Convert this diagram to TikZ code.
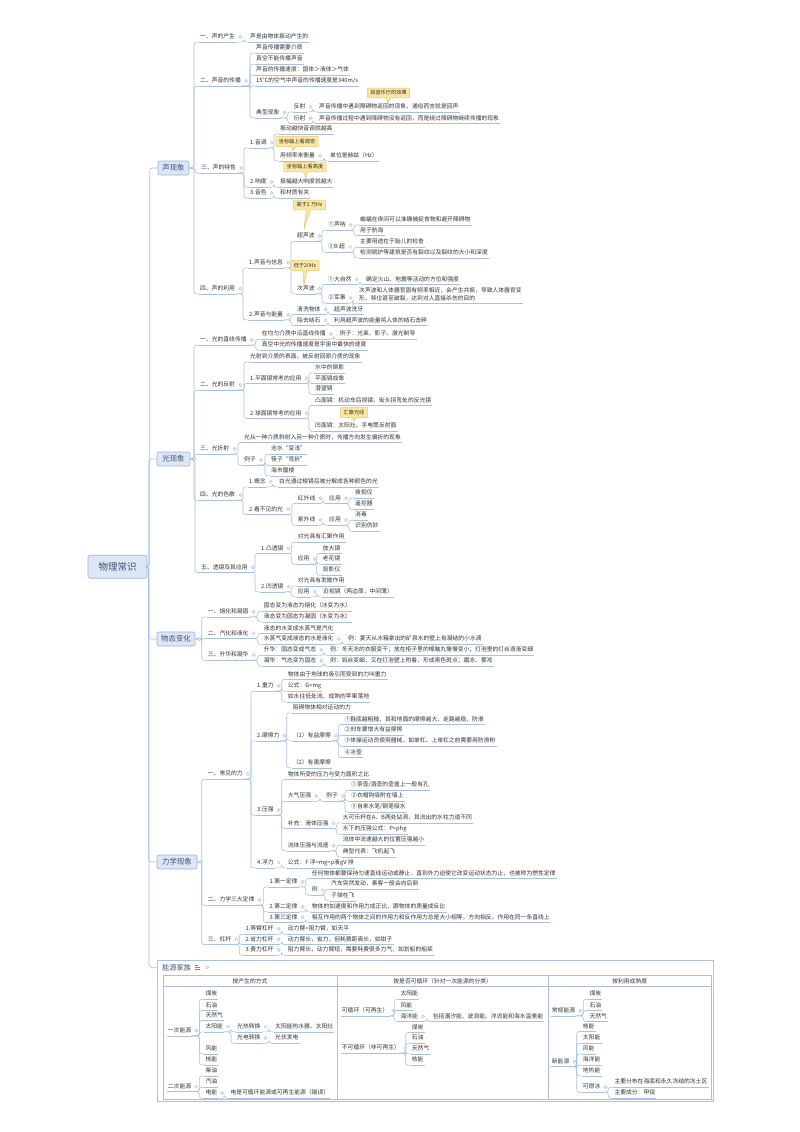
\documentclass[tikz,border=0pt]{standalone}
\usepackage{fontspec}
\setmainfont{Noto Sans CJK SC}
\usetikzlibrary{shapes.callouts,calc}
\definecolor{lc}{HTML}{A9C0E4}
\definecolor{txt}{HTML}{333333}
\definecolor{bfill}{HTML}{DCE6F5}
\definecolor{bdraw}{HTML}{9EB5DA}
\definecolor{btxt}{HTML}{3B5375}
\definecolor{cfill}{HTML}{FCE7A2}
\definecolor{cdraw}{HTML}{E6C66A}
\newcommand\fz{\fontsize{5.8}{7}\selectfont}
\newcommand\mke[2]{\draw[cn] (#1) -| ([xshift=-5pt]#2.south west) -- (#2.south west);}
\newcommand\mkb[2]{\draw[cn] (#1) -| ([xshift=-8pt]#2.west) -- (#2.west);}
\newcommand\mkd[1]{\draw[dotst] ([xshift=4pt]#1.east) circle[radius=1.5pt];}
\newcommand\mkn[4]{\node[lbl] (#1) at (#2,#3) {#4};}
\newcommand\mkes[2]{\foreach \ch in {#2}{\mke{#1.south east}{\ch}}\mkd{#1}}
\newcommand\mkbs[2]{\foreach \ch in {#2}{\mke{#1.east}{\ch}}\mkd{#1}}
\tikzset{
 ln/.style={draw=lc, line width=0.6pt},
 cn/.style={draw=lc, line width=0.6pt, rounded corners=2.5pt},
 dotst/.style={draw=lc, fill=white, line width=0.5pt},
 ul/.style={append after command={(\tikzlastnode.south west) edge[ln] (\tikzlastnode.south east)}},
 lbl/.style={anchor=west, inner xsep=1pt, inner ysep=2.1pt, text height=4.6pt, text depth=1.2pt, font=\fz, text=txt, ul},
 lbltwo/.style={inner xsep=1pt, inner ysep=2.1pt, align=left, font=\fontsize{5.8}{7.4}\selectfont, text=txt, ul},
 box/.style={draw=bdraw, fill=bfill, rounded corners=2pt, text=btxt, font=\fontsize{7.4}{9}\selectfont, minimum height=14pt, inner sep=0pt, line width=0.6pt},
 co/.style={rectangle callout, draw=cdraw, fill=cfill, font=\fontsize{5.2}{6}\selectfont, text=txt, inner xsep=3pt, inner ysep=2.4pt, callout pointer width=4pt, line width=0.5pt},
 hd/.style={font=\fz, text=txt, inner sep=1pt}
}
\begin{document}
\begin{tikzpicture}[x=1pt,y=-1pt]
\fill[white] (0,0) rectangle (800,1132);
\useasboundingbox (0,0) rectangle (800,1132);
% root and main boxes
\node[box, minimum width=59pt, minimum height=23pt, font=\fontsize{9.5}{11}\selectfont] (root) at (117.5,566.7) {物理常识};
\node[box, minimum width=31pt] (s) at (173.5,168) {声现象};
\node[box, minimum width=33pt] (l) at (173.5,459) {光现象};
\node[box, minimum width=38pt] (w) at (176,639) {物态变化};
\node[box, minimum width=40pt] (m) at (177,862) {力学现象};
\coordinate (enin) at (157,967.3);
\foreach \ch in {s,l,w,m}{\mkb{root.east}{\ch}}
\draw[cn] (root.east) -| ([xshift=-8pt]enin) -- (enin);

% ===== sound =====
\mkn{s1}{199}{37}{一、声的产生}
\mkn{s1a}{249}{37}{声是由物体振动产生的}
\mkn{s2}{199}{81}{二、声音的传播}
\mkn{s2a}{255}{47.7}{声音传播需要介质}
\mkn{s2b}{255}{59}{真空不能传播声音}
\mkn{s2c}{255}{70}{声音的传播速度：固体＞液体＞气体}
\mkn{s2d}{255}{80.7}{15℃的空气中声音的传播速度是340m/s}
\mkn{s2e}{255}{112.7}{典型现象}
\mkn{s2f}{292.7}{106.7}{反射}
\mkn{s2fa}{318}{106.7}{声音传播中遇到障碍物返回的现象，通俗而言就是回声}
\mkn{s2g}{292.7}{118.3}{衍射}
\mkn{s2ga}{318}{118.3}{声音传播过程中遇到障碍物没有返回，而是绕过障碍物继续传播的现象}
\mkn{s3}{200}{168}{三、声的特性}
\mkn{s31}{249}{142.7}{1.音调}
\mkn{s31a}{279}{128.7}{振动越快音调就越高}
\mkn{s31b}{279}{155.7}{用频率来衡量}
\mkn{s31b1}{329}{155.7}{单位是赫兹（Hz）}
\mkn{s32}{249}{182}{2.响度}
\mkn{s32a}{279}{182}{振幅越大响度就越大}
\mkn{s33}{249}{193}{3.音色}
\mkn{s33a}{279}{193}{和材质有关}
\mkn{s4}{199}{288.7}{四、声的利用}
\mkn{s41}{248}{262.7}{1.声音与信息}
\mkn{s411}{296}{236}{超声波}
\mkn{s4111}{327}{225}{①声呐}
\mkn{s4111a}{359}{219.7}{蝙蝠在夜间可以准确捕捉食物和避开障碍物}
\mkn{s4111b}{359}{230.3}{用于航海}
\mkn{s4112}{327}{247}{②B 超}
\mkn{s4112a}{359}{242}{主要用途在于胎儿的检查}
\mkn{s4112b}{359}{252.7}{检测锅炉等建筑是否有裂纹以及裂纹的大小和深度}
\mkn{s412}{296}{288.7}{次声波}
\mkn{s4121}{327}{279.3}{①大自然}
\mkn{s4121a}{365}{279.3}{确定火山、地震等活动的方位和强度}
\mkn{s4122}{327}{298}{②军事}
\node[lbltwo, anchor=south west] (s4122a) at (358,303) {次声波和人体器官固有频率相近，会产生共振，导致人体器官变\\形、移位甚至破裂，达到对人直接杀伤的目的};
\mkn{s42}{248}{314.7}{2.声音与能量}
\mkn{s421}{296}{309.3}{清洗物体}
\mkn{s421a}{333}{309.3}{超声波洗牙}
\mkn{s422}{296}{320.3}{除去结石}
\mkn{s422a}{333}{320.3}{利用超声波的能量将人体的结石击碎}
\mkbs{s}{s1,s2,s3,s4}
\mkes{s1}{s1a}
\mkes{s2}{s2a,s2b,s2c,s2d,s2e}
\mkes{s2e}{s2f,s2g}
\mkes{s2f}{s2fa}
\mkes{s2g}{s2ga}
\mkes{s3}{s31,s32,s33}
\mkes{s31}{s31a,s31b}
\mkes{s31b}{s31b1}
\mkes{s32}{s32a}
\mkes{s33}{s33a}
\mkes{s4}{s41,s42}
\mkes{s41}{s411,s412}
\mkes{s411}{s4111,s4112}
\mkes{s4111}{s4111a,s4111b}
\mkes{s4112}{s4112a,s4112b}
\mkes{s412}{s4121,s4122}
\mkes{s4121}{s4121a}
\mkes{s4122}{s4122a}
\mkes{s42}{s421,s422}
\mkes{s421}{s421a}
\mkes{s422}{s422a}

% ===== light =====
\mkn{l1}{199}{340}{一、光的直线传播}
\mkn{l1a}{260.7}{334}{在均匀介质中沿直线传播}
\mkn{l1a1}{338.7}{334}{例子：光束、影子、激光制导}
\mkn{l1b}{260.7}{345}{真空中光的传播速度是宇宙中最快的速度}
\mkn{l2}{199}{385}{二、光的反射}
\mkn{l2a}{249}{356.7}{光射到介质的表面，被反射回原介质的现象}
\mkn{l2b}{249}{378.3}{1.平面镜常考的应用}
\mkn{l2b1}{314}{367.7}{水中的倒影}
\mkn{l2b2}{314}{378.3}{平面镜成像}
\mkn{l2b3}{314}{389}{潜望镜}
\mkn{l2c}{249}{413.3}{2.球面镜常考的应用}
\mkn{l2c1}{314}{400.3}{凸面镜：机动车后视镜、街头拐弯处的反光镜}
\mkn{l2c2}{314}{426}{凹面镜：太阳灶、手电筒反射面}
\mkn{l3}{199}{449}{三、光折射}
\mkn{l3a}{243}{437.3}{光从一种介质斜射入另一种介质时，传播方向发生偏折的现象}
\mkn{l3b}{243}{460}{例子}
\mkn{l3b1}{270}{449}{池水“变浅”}
\mkn{l3b2}{270}{460}{筷子“弯折”}
\mkn{l3b3}{270}{470.7}{海市蜃楼}
\mkn{l4}{199}{495}{四、光的色散}
\mkn{l4a}{248}{481.7}{1.概念}
\mkn{l4a1}{278}{481.7}{白光通过棱镜后被分解成各种颜色的光}
\mkn{l4b}{248}{509.3}{2.看不见的光}
\mkn{l4b1}{296.7}{498.3}{红外线}
\mkn{l4b1a}{328}{498.3}{应用}
\mkn{l4b1a1}{354}{492.7}{夜视仪}
\mkn{l4b1a2}{354}{504}{遥控器}
\mkn{l4b2}{296.7}{520}{紫外线}
\mkn{l4b2a}{328}{520}{应用}
\mkn{l4b2a1}{354}{515}{消毒}
\mkn{l4b2a2}{354}{526}{识别伪钞}
\mkn{l5}{200}{567.3}{五、透镜及其应用}
\mkn{l5a}{260}{548.3}{1.凸透镜}
\mkn{l5a1}{296.7}{537}{对光具有汇聚作用}
\mkn{l5a2}{296.7}{559}{应用}
\mkn{l5a2a}{321.7}{548.3}{放大镜}
\mkn{l5a2b}{321.7}{559}{老花镜}
\mkn{l5a2c}{321.7}{570}{投影仪}
\mkn{l5b}{260}{586.7}{2.凹透镜}
\mkn{l5b1}{296.7}{580.7}{对光具有发散作用}
\mkn{l5b2}{296.7}{591.7}{应用}
\mkn{l5b2a}{322}{591.7}{近视镜（两边厚，中间薄）}
\mkbs{l}{l1,l2,l3,l4,l5}
\mkes{l1}{l1a,l1b}
\mkes{l1a}{l1a1}
\mkes{l2}{l2a,l2b,l2c}
\mkes{l2b}{l2b1,l2b2,l2b3}
\mkes{l2c}{l2c1,l2c2}
\mkes{l3}{l3a,l3b}
\mkes{l3b}{l3b1,l3b2,l3b3}
\mkes{l4}{l4a,l4b}
\mkes{l4a}{l4a1}
\mkes{l4b}{l4b1,l4b2}
\mkes{l4b1}{l4b1a}
\mkes{l4b1a}{l4b1a1,l4b1a2}
\mkes{l4b2}{l4b2a}
\mkes{l4b2a}{l4b2a1,l4b2a2}
\mkes{l5}{l5a,l5b}
\mkes{l5a}{l5a1,l5a2}
\mkes{l5a2}{l5a2a,l5a2b,l5a2c}
\mkes{l5b}{l5b1,l5b2}
\mkes{l5b2}{l5b2a}

% ===== states =====
\mkn{w1}{206.7}{611.7}{一、熔化和凝固}
\mkn{w1a}{262.7}{606}{固态变为液态为熔化（冰变为水）}
\mkn{w1b}{262.7}{616.7}{液态变为固态为凝固（水变为冰）}
\mkn{w2}{206.7}{633.3}{二、汽化和液化}
\mkn{w2a}{262.7}{628.3}{液态的水变成水蒸气是汽化}
\mkn{w2b}{262.7}{639}{水蒸气变成液态的水是液化}
\mkn{w2b1}{347}{639}{例：夏天从冰箱拿出的矿泉水的壁上有凝结的小水滴}
\mkn{w3}{206.7}{655}{三、升华和凝华}
\mkn{w3a}{262.7}{650}{升华：固态变成气态}
\mkn{w3a1}{329}{650}{例：冬天冻的衣服变干；放在柜子里的樟脑丸慢慢变小；灯泡里的灯丝逐渐变细}
\mkn{w3b}{262.7}{661}{凝华：气态变为固态}
\mkn{w3b1}{329}{661}{例：钨丝变细，又在灯泡壁上附着，形成黑色斑点；霜冻、雾凇}
\mkbs{w}{w1,w2,w3}
\mkes{w1}{w1a,w1b}
\mkes{w2}{w2a,w2b}
\mkes{w2b}{w2b1}
\mkes{w3}{w3a,w3b}
\mkes{w3a}{w3a1}
\mkes{w3b}{w3b1}

% ===== mechanics =====
\mkn{m1}{206.7}{774}{一、常见的力}
\mkn{m1a}{256}{686}{1.重力}
\mkn{m1a1}{286.7}{674.3}{物体由于地球的吸引而受到的力叫重力}
\mkn{m1a2}{286.7}{686}{公式：G=mg}
\mkn{m1a3}{286.7}{696.7}{如水往低处流、成熟的苹果落地}
\mkn{m1b}{256}{735.7}{2.摩擦力}
\mkn{m1b1}{291.7}{707.7}{阻碍物体相对运动的力}
\mkn{m1b2}{291.7}{735.7}{（1）有益摩擦}
\mkn{m1b2a}{343.3}{719.3}{①鞋底越粗糙，其和地面的摩擦越大，走路越稳，防滑}
\mkn{m1b2b}{343.3}{730}{②刹车要增大有益摩擦}
\mkn{m1b2c}{343.3}{741}{③体操运动员使用器械，如单杠、上单杠之前需要用防滑粉}
\mkn{m1b2d}{343.3}{752.3}{④冰壶}
\mkn{m1b3}{291.7}{762.7}{（2）有害摩擦}
\mkn{m1c}{256}{810}{3.压强}
\mkn{m1c1}{286.7}{774.3}{物体所受的压力与受力面积之比}
\mkn{m1c2}{286.7}{796}{大气压强}
\mkn{m1c2a}{325}{796}{例子}
\mkn{m1c2a1}{350}{785}{①茶壶/酒壶的壶盖上一般有孔}
\mkn{m1c2a2}{350}{796}{②衣帽钩吸附在墙上}
\mkn{m1c2a3}{350}{807}{③自来水笔/钢笔吸水}
\mkn{m1c3}{286.7}{823.3}{补充：液体压强}
\mkn{m1c3a}{341.7}{817.7}{大可乐杯在A、B两处钻洞，其流出的水柱力道不同}
\mkn{m1c3b}{341.7}{829}{水下的压强公式：P=ρhg}
\mkn{m1c4}{286.7}{845.7}{流体压强与流速}
\mkn{m1c4a}{341.7}{840}{流体中流速越大的位置压强越小}
\mkn{m1c4b}{341.7}{851.7}{典型代表：飞机起飞}
\mkn{m1d}{256}{862.7}{4.浮力}
\mkn{m1d1}{286.7}{862.7}{公式：F 浮=mg=ρ液gV 排}
\mkn{m2}{206.7}{900}{二、力学三大定律}
\mkn{m2a}{268.3}{881.7}{1.第一定律}
\mkn{m2a1}{310.7}{873.3}{任何物体都要保持匀速直线运动或静止，直到外力迫使它改变运动状态为止，也被称为惯性定律}
\mkn{m2a2}{310.7}{890}{例}
\mkn{m2a2a}{330}{884}{汽车突然发动，乘客一般会向后倒}
\mkn{m2a2b}{330}{895.7}{子弹在飞}
\mkn{m2b}{268.3}{906.7}{2.第二定律}
\mkn{m2b1}{310.7}{906.7}{物体的加速度和作用力成正比，跟物体的质量成反比}
\mkn{m2c}{268.3}{917.3}{3.第三定律}
\mkn{m2c1}{310.7}{917.3}{相互作用的两个物体之间的作用力和反作用力总是大小相等，方向相反，作用在同一条直线上}
\mkn{m3}{206.7}{939.3}{三、杠杆}
\mkn{m3a}{244.3}{929}{1.等臂杠杆}
\mkn{m3a1}{286.7}{929}{动力臂=阻力臂，如天平}
\mkn{m3b}{244.3}{939.3}{2.省力杠杆}
\mkn{m3b1}{286.7}{939.3}{动力臂长，省力，但耗费距离长，如钳子}
\mkn{m3c}{244.3}{950}{3.费力杠杆}
\mkn{m3c1}{286.7}{950}{阻力臂长，动力臂短，需要耗费很多力气，如划船的船桨}
\mkbs{m}{m1,m2,m3}
\mkes{m1}{m1a,m1b,m1c,m1d}
\mkes{m1a}{m1a1,m1a2,m1a3}
\mkes{m1b}{m1b1,m1b2,m1b3}
\mkes{m1b2}{m1b2a,m1b2b,m1b2c,m1b2d}
\mkes{m1c}{m1c1,m1c2,m1c3,m1c4}
\mkes{m1c2}{m1c2a}
\mkes{m1c2a}{m1c2a1,m1c2a2,m1c2a3}
\mkes{m1c3}{m1c3a,m1c3b}
\mkes{m1c4}{m1c4a,m1c4b}
\mkes{m1d}{m1d1}
\mkes{m2}{m2a,m2b,m2c}
\mkes{m2a}{m2a1,m2a2}
\mkes{m2a2}{m2a2a,m2a2b}
\mkes{m2b}{m2b1}
\mkes{m2c}{m2c1}
\mkes{m3}{m3a,m3b,m3c}
\mkes{m3a}{m3a1}
\mkes{m3b}{m3b1}
\mkes{m3c}{m3c1}

% ===== energy =====
\draw[ln] (157,960) rectangle (713,1101);
\draw[ln] (163,975) rectangle (711,1099.5);
\draw[ln] (163,986.3) -- (711,986.3);
\draw[ln] (337,975) -- (337,1099.5);
\draw[ln] (548.5,975) -- (548.5,1099.5);
\node[anchor=west, font=\fontsize{7.2}{8}\selectfont, text=btxt, inner sep=1pt] (et) at (161,967.3) {能源家族};
\draw[draw=btxt!70, line width=0.5pt] ([xshift=3pt,yshift=-1.8pt]et.east) -- ++(4.5,0) ([xshift=3pt]et.east) -- ++(4.5,0) ([xshift=3pt,yshift=1.8pt]et.east) -- ++(3,0);
\draw[dotst] ([xshift=15pt]et.east) circle[radius=1.5pt];
\node[hd] (h1) at (250,981) {按产生的方式};
\node[hd] (h2) at (442.7,981) {按是否可循环（针对一次能源的分类）};
\node[hd] (h3) at (629.7,981) {按利用成熟度};
\mkn{ea}{166.7}{1030.7}{一次能源}
\mkn{ea1}{204.3}{994}{煤炭}
\mkn{ea2}{204.3}{1005.3}{石油}
\mkn{ea3}{204.3}{1015.3}{天然气}
\mkn{ea4}{204.3}{1026.7}{太阳能}
\mkn{ea5}{204.3}{1048.7}{风能}
\mkn{ea6}{204.3}{1059.7}{核能}
\mkn{ea4a}{236}{1026.7}{光热转换}
\mkn{ea4a1}{274}{1026.7}{太阳能热水器、太阳灶}
\mkn{ea4b}{236}{1038}{光电转换}
\mkn{ea4b1}{274}{1038}{光伏发电}
\mkn{eb}{166.7}{1086.3}{二次能源}
\mkn{eb1}{204.3}{1070.7}{柴油}
\mkn{eb2}{204.3}{1082}{汽油}
\mkn{eb3}{204.3}{1093}{电能}
\mkn{eb3a}{229.3}{1093}{电是可循环能源或可再生能源（错误）}
\mkn{ec}{340.7}{1010.7}{可循环（可再生）}
\mkn{ec1}{399.3}{994}{太阳能}
\mkn{ec2}{399.3}{1005.3}{风能}
\mkn{ec3}{399.3}{1016.3}{海洋能}
\mkn{ec3a}{431.7}{1016.3}{包括潮汐能、波浪能、洋流能和海水温差能}
\mkn{ed}{340.7}{1048}{不可循环（非可再生）}
\mkn{ed1}{410.7}{1027.3}{煤炭}
\mkn{ed2}{410.7}{1038}{石油}
\mkn{ed3}{410.7}{1048.7}{天然气}
\mkn{ed4}{410.7}{1060}{核能}
\mkn{ee}{550.7}{1010.7}{常规能源}
\mkn{ee1}{588.3}{994}{煤炭}
\mkn{ee2}{588.3}{1005.3}{石油}
\mkn{ee3}{588.3}{1016.3}{天然气}
\mkn{ef}{550.7}{1061.3}{新能源}
\mkn{ef1}{581.7}{1026.3}{核能}
\mkn{ef2}{581.7}{1038}{太阳能}
\mkn{ef3}{581.7}{1048.7}{风能}
\mkn{ef4}{581.7}{1060}{海洋能}
\mkn{ef5}{581.7}{1070.7}{地热能}
\mkn{ef6}{581.7}{1087}{可燃冰}
\mkn{ef6a}{613.3}{1082}{主要分布在海底和永久冻结的冻土区}
\mkn{ef6b}{613.3}{1093}{主要成分：甲烷}
\mkes{ea}{ea1,ea2,ea3,ea4,ea5,ea6}
\mkes{ea4}{ea4a,ea4b}
\mkes{ea4a}{ea4a1}
\mkes{ea4b}{ea4b1}
\mkes{eb}{eb1,eb2,eb3}
\mkes{eb3}{eb3a}
\mkes{ec}{ec1,ec2,ec3}
\mkes{ec3}{ec3a}
\mkes{ed}{ed1,ed2,ed3,ed4}
\mkes{ee}{ee1,ee2,ee3}
\mkes{ef}{ef1,ef2,ef3,ef4,ef5,ef6}
\mkes{ef6}{ef6a,ef6b}

% ===== callouts =====
\node[co, callout absolute pointer={(388,103)}] (c1) at (388.5,93) {如音乐厅的效果};
\node[co, callout absolute pointer={(292,151)}] (c2) at (297,141.5) {坐标轴上看疏密};
\node[co, callout absolute pointer={(306,178)}] (c3) at (305,167) {坐标轴上看高度};
\node[co, callout absolute pointer={(304,229)}] (c4) at (309.5,205) {高于2 万Hz};
\node[co, callout absolute pointer={(304,285)}] (c5) at (305,265.5) {低于20Hz};
\node[co, callout absolute pointer={(354,421)}] (c6) at (354,412.5) {汇聚光线};
\end{tikzpicture}
\end{document}
